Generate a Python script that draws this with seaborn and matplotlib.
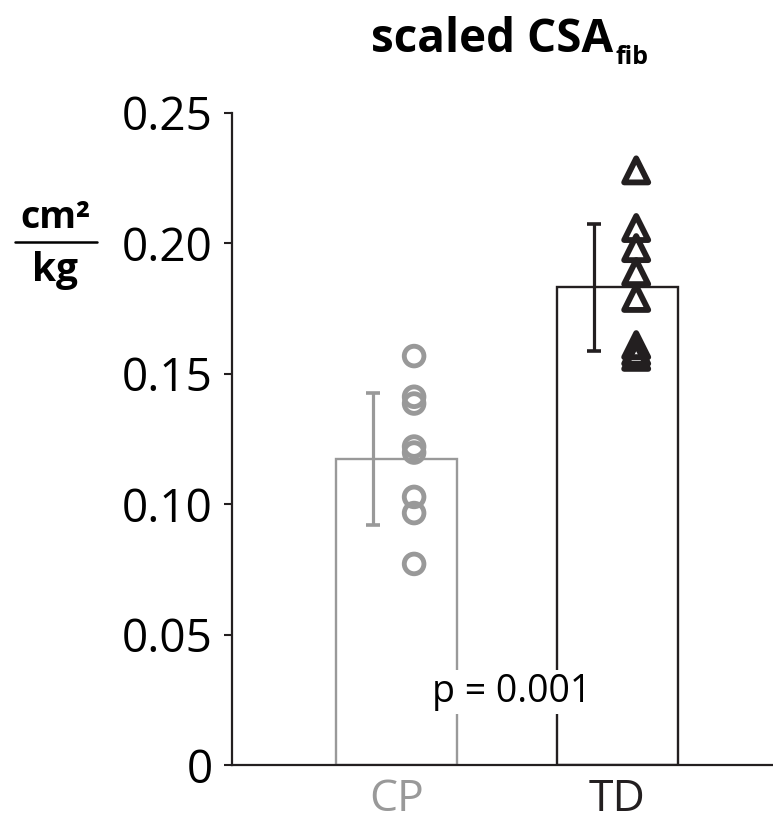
import matplotlib
matplotlib.use("Agg")
import matplotlib.pyplot as plt
from matplotlib.lines import Line2D
import seaborn as sns
import pandas as pd

# ---- data ----
groups = ["CP", "TD"]
bar_means = [0.1173, 0.1832]
bar_sd = [0.0252, 0.0244]
cp_values = [0.1568, 0.1412, 0.1386, 0.1221, 0.1198, 0.1028, 0.0966, 0.0771]
td_values = [0.2280, 0.2059, 0.1982, 0.1890, 0.1791, 0.1610, 0.1585, 0.1565]
y_ticks = [0, 0.05, 0.10, 0.15, 0.20, 0.25]
y_tick_labels = ["0", "0.05", "0.10", "0.15", "0.20", "0.25"]
p_text = "p = 0.001"

GRAY = "#999999"
BLACK = "#231f20"
colors = [GRAY, BLACK]

sns.set_style("ticks")
plt.rcParams["font.family"] = ["Open Sans", "DejaVu Sans"]

W, H = 773, 822
fig = plt.figure(figsize=(W / 100, H / 100), dpi=100)
ax = fig.add_axes([232 / W, 1 - 765 / H, (W - 232) / W, (765 - 113) / H])

df = pd.DataFrame({"group": groups, "mean": bar_means})
sns.barplot(data=df, x="group", y="mean", ax=ax, width=0.55, color="white",
            errorbar=None, zorder=1)
for patch, c in zip(ax.patches, colors):
    patch.set_facecolor("white")
    patch.set_edgecolor(c)
    patch.set_linewidth(1.7)

# error bars (shifted left of bar centre)
for i, (m, s) in enumerate(zip(bar_means, bar_sd)):
    ax.errorbar(i - 0.108, m, yerr=s, color=colors[i], elinewidth=2.3,
                capsize=5.2, capthick=2.6, zorder=3)

# individual points (shifted right)
cp_df = pd.DataFrame({"x": [0 + 0.08] * len(cp_values), "y": cp_values})
td_df = pd.DataFrame({"x": [1 + 0.085] * len(td_values), "y": td_values})
sns.scatterplot(data=cp_df, x="x", y="y", ax=ax, marker="o", s=200,
                facecolor="none", edgecolor=GRAY, linewidth=3.5, zorder=4)
sns.scatterplot(data=td_df, x="x", y="y", ax=ax, marker="^", s=300,
                facecolor="none", edgecolor=BLACK, linewidth=4.2, zorder=4)

ax.set_xlim(-0.744, 1.704)
ax.set_ylim(0, 0.25)
ax.set_yticks(y_ticks)
ax.set_yticklabels(y_tick_labels, fontsize=33, color="black")
ax.set_xticks([0, 1])
ax.set_xticklabels(groups, fontsize=32)
for lbl, c in zip(ax.get_xticklabels(), colors):
    lbl.set_color(c)
ax.tick_params(axis="y", direction="out", length=6, width=1.5, color=BLACK, pad=8)
ax.tick_params(axis="x", length=0, pad=9)
ax.set_xlabel("")
ax.set_ylabel("")
sns.despine(ax=ax)
for sp in ["left", "bottom"]:
    ax.spines[sp].set_color(BLACK)
    ax.spines[sp].set_linewidth(1.6)

# p-value text
ax.text(0.52, 0.028, p_text, fontsize=27, ha="center", va="center", color="black",
        bbox=dict(facecolor="white", edgecolor="none", pad=2), zorder=5)

# title
fig.text(613 / W, 1 - 40 / H, "scaled CSA", fontsize=33, fontweight="bold",
         ha="right", va="center", color="black")
fig.text(615 / W, 1 - 58 / H, "fib", fontsize=18, fontweight="bold",
         ha="left", va="center", color="black")

# y-axis unit label as fraction
fig.text(55 / W, 1 - 218 / H, "cm²", fontsize=27, fontweight="bold",
         ha="center", va="center", color="black")
fig.text(55 / W, 1 - 270 / H, "kg", fontsize=28, fontweight="bold",
         ha="center", va="center", color="black")
fig.add_artist(Line2D([15 / W, 97 / W], [1 - 242 / H, 1 - 242 / H],
                      transform=fig.transFigure, color="black", linewidth=1.8))

fig.savefig("out.png", dpi=100)
